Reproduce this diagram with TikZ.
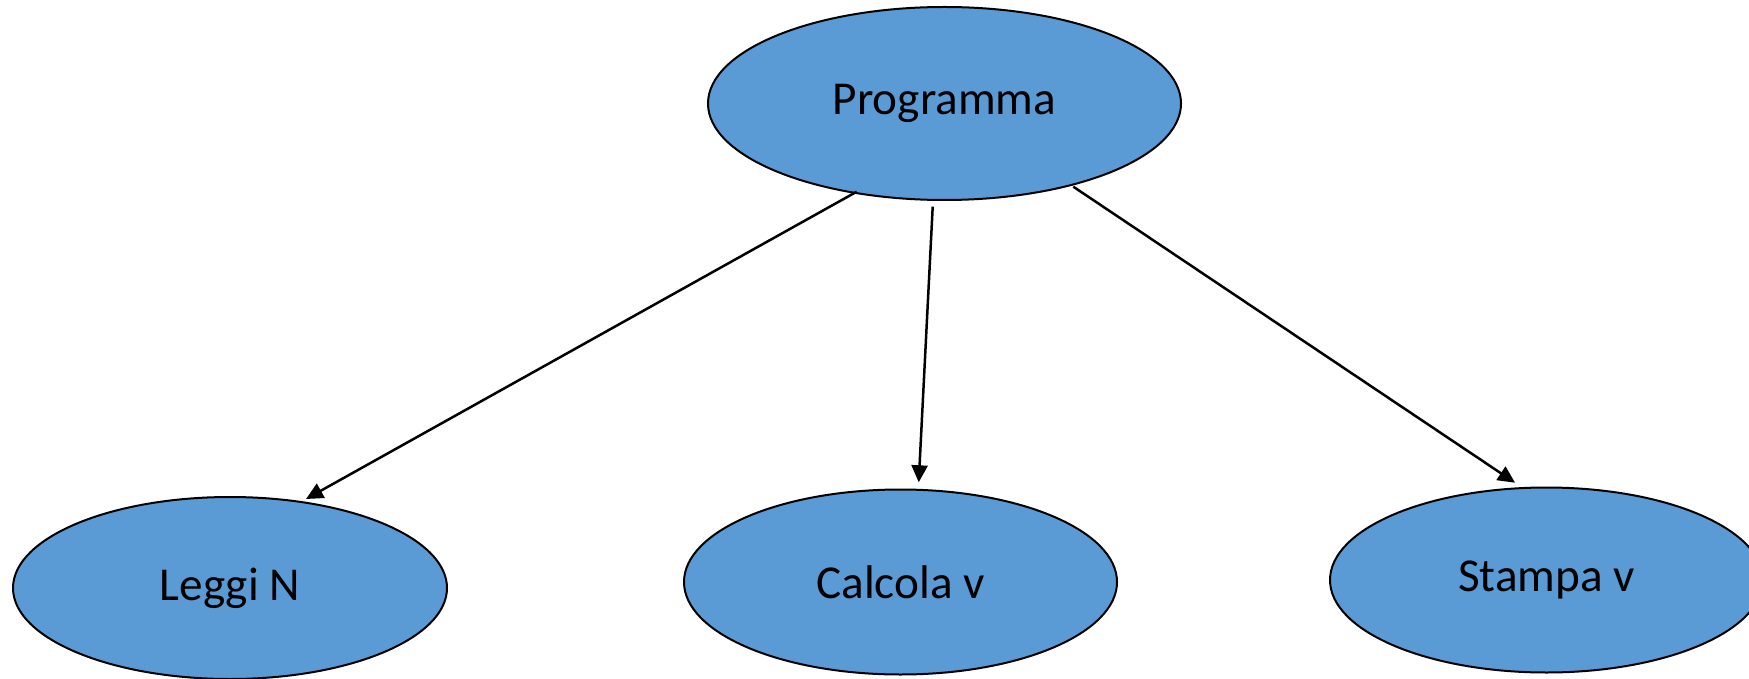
\documentclass[tikz,border=0pt]{standalone}
\usepackage{fontspec}
\setmainfont{Carlito}
\usetikzlibrary{shapes.geometric,arrows.meta,calc}
\definecolor{nodeblue}{RGB}{91,155,213}
\begin{document}
\begin{tikzpicture}[x=0.5pt,y=-0.5pt,
  blob/.style={ellipse, draw=black, line width=1pt, fill=nodeblue,
    inner sep=0pt, outer sep=0pt, font=\fontsize{23.6}{28}\selectfont},
  link/.style={line width=1.25pt, -{Triangle[length=8.5pt,width=8pt]}}]
\useasboundingbox (0,0) rectangle (1749,679);
\clip (0,0) rectangle (1749,679);

% program tree
\node[blob, minimum width=236.5pt, minimum height=96.5pt] (prog) at (944.5,103.5) {Programma};
\node[blob, minimum width=217pt, minimum height=91pt] (leggi) at (230,588) {Leggi N};
\node[blob, minimum width=216.5pt, minimum height=92.5pt] (calc) at (900.5,582) {Calcola v};
\node[blob, minimum width=216.5pt, minimum height=92.5pt] (stampa) at (1546.5,580) {Stampa v};

% connector end points
\coordinate (s1) at ($(prog.center)+(-87.8,88.2)$);
\coordinate (e1) at ($(leggi.center)+(76,-89)$);
\coordinate (s2) at ($(prog.center)+(-11.8,103.2)$);
\coordinate (e2) at ($(calc.center)+(18.2,-99.7)$);
\coordinate (s3) at ($(prog.center)+(128.8,83.2)$);
\coordinate (e3) at ($(stampa.center)+(-31.5,-97.3)$);

\draw[link] (s1) -- (e1);
\draw[link] (s2) -- (e2);
\draw[link] (s3) -- (e3);
\end{tikzpicture}
\end{document}
